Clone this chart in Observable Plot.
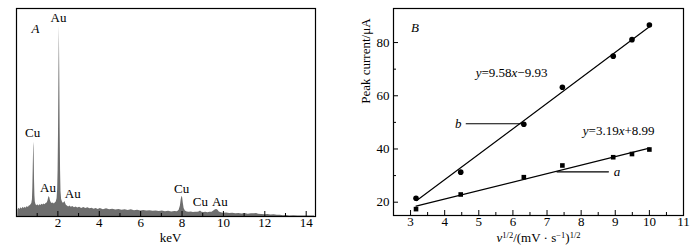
<!DOCTYPE html>
<html><head><meta charset="utf-8">
<script src="https://cdn.jsdelivr.net/npm/d3@7"></script>
<script src="https://cdn.jsdelivr.net/npm/@observablehq/plot@0.6"></script>
<style>
body{margin:0;background:#fff;}
#wrap{position:relative;width:696px;height:248px;overflow:hidden;}
#left{position:absolute;left:0;top:0;}
#right{position:absolute;left:340px;top:0;}
svg text{font-family:"Liberation Serif","Times New Roman",serif;}
</style></head><body><div id="wrap"><div id="left"></div><div id="right"></div></div>
<script>
// ---- Panel A: EDS spectrum (relative intensity, %) ----
const energyKeV = [0.06,0.07,0.12,0.17,0.22,0.27,0.32,0.37,0.42,0.47,0.52,0.57,0.62,0.66,0.70,0.74,0.77,0.79,0.81,0.83,0.84,0.85,0.86,0.87,0.89,0.91,0.94,0.98,1.03,1.08,1.13,1.18,1.23,1.28,1.33,1.38,1.43,1.48,1.52,1.55,1.58,1.61,1.64,1.68,1.73,1.78,1.83,1.88,1.92,1.96,1.99,2.01,2.03,2.05,2.07,2.09,2.11,2.13,2.15,2.18,2.22,2.26,2.30,2.34,2.37,2.41,2.46,2.52,2.58,2.65,2.72,2.80,2.88,2.96,3.05,3.15,3.25,3.35,3.45,3.55,3.65,3.75,3.85,3.95,4.05,4.2,4.35,4.5,4.65,4.8,4.95,5.1,5.25,5.4,5.55,5.7,5.85,6.0,6.15,6.3,6.45,6.6,6.75,6.9,7.05,7.2,7.35,7.5,7.65,7.78,7.86,7.92,7.96,7.99,8.01,8.03,8.06,8.10,8.16,8.25,8.35,8.45,8.55,8.65,8.75,8.82,8.87,8.91,8.96,9.05,9.15,9.25,9.35,9.45,9.55,9.62,9.68,9.74,9.80,9.9,10.0,10.15,10.3,10.45,10.6,10.75,10.9,11.05,11.2,11.35,11.5,11.6,11.7,11.85,12.0,12.15,12.3,12.45,12.6,12.75,12.9,13.05,13.2,13.4,13.6,13.8,14.0,14.2,14.4];
const intensity = [0,3.2,4.0,3.4,4.2,3.6,4.4,3.8,4.5,4.0,4.8,4.3,5.0,5.2,5.6,6.2,8.0,14,24,33.5,35.7,33,26,18,10,7,5.8,5.2,5.6,5.0,5.7,5.3,5.9,5.5,6.0,5.7,6.2,6.5,7.4,8.8,9.6,9.0,7.6,6.6,6.2,6.5,6.0,6.6,7.0,8.5,13,22,40,68,91.8,70,42,22,12,8.2,7.0,6.4,6.6,7.2,6.4,5.4,5.0,4.6,5.0,4.4,4.8,4.2,4.6,4.1,4.5,3.9,4.3,3.8,4.2,3.7,4.0,3.5,3.9,3.4,3.8,3.3,3.7,3.2,3.5,3.1,3.4,3.0,3.3,2.9,3.2,2.8,3.0,2.7,2.9,2.6,2.8,2.5,2.7,2.4,2.6,2.3,2.5,2.2,2.4,2.3,3.0,5.0,8.0,9.4,9.6,9.0,6.5,3.8,2.6,2.2,2.0,2.2,1.9,2.1,2.0,2.2,2.5,2.5,2.1,1.9,2.0,1.8,2.0,2.1,2.8,3.3,3.4,3.0,2.2,1.8,1.6,1.7,1.4,1.6,1.3,1.5,1.2,1.4,1.1,1.3,1.3,1.5,1.1,1.0,0.9,1.0,0.7,0.8,0.6,0.6,0.4,0.5,0.3,0.35,0.25,0.3,0.2,0.25,0.2];
const keVTicks = [2,4,6,8,10,12,14];
const keVMinor = [1,3,5,7,9,11,13];
const peakLabels = [
  {x:2.03,y:95.7,t:"Au"},{x:0.78,y:40.4,t:"Cu"},{x:1.52,y:13.9,t:"Au"},{x:2.72,y:11.0,t:"Au"},
  {x:7.98,y:13.5,t:"Cu"},{x:8.89,y:6.9,t:"Cu"},{x:9.83,y:6.9,t:"Au"}
];

// ---- Panel B: peak current vs sqrt(scan rate) ----
const sqrtRate = [3.16,4.47,6.32,7.45,8.94,9.49,10.0];
const currentB = [21.5,31.3,49.3,63.2,74.9,81.1,86.6];
const currentA = [17.4,22.9,29.4,33.8,36.9,38.1,39.8];
const fitBx = [3.18,10.02], fitBy = [20.6,86.1];
const fitAx = [3.16,10.0], fitAy = [18.5,40.3];
const xTicksB = [3,4,5,6,7,8,9,10,11];
const xMinorB = [3.5,4.5,5.5,6.5,7.5,8.5,9.5,10.5];
const yTicksB = [20,40,60,80];
const yMinorB = [30,50,70];
const eqB = "y=9.58x−9.93", eqA = "y=3.19x+8.99";
const xLabelB = "v1/2/(mV · s−1)1/2";

const serif = '"Liberation Serif","Times New Roman",serif';
const FS = 13;
const spectrum = energyKeV.map((e,i)=>({e, c:intensity[i]}));

// Left panel
const LH = 248-8-32;
const left = Plot.plot({
  width:340, height:248, marginLeft:16, marginRight:25, marginTop:8, marginBottom:32,
  style:{fontFamily:serif, fontSize:FS+"px", background:"white", color:"black"},
  x:{domain:[0,14.45]}, y:{domain:[0,100], axis:null},
  marks:[
    Plot.areaY(spectrum,{x:"e",y:"c",fill:"#6e6e6e",curve:"linear"}),
    Plot.tickX(keVTicks,{x:d=>d,stroke:"black",strokeWidth:1,insetTop:LH-5}),
    Plot.tickX(keVMinor,{x:d=>d,stroke:"black",strokeWidth:1,insetTop:LH-3}),
    Plot.axisX({ticks:keVTicks,tickSize:0,tickPadding:1,label:null,fontSize:FS}),
    Plot.frame({stroke:"black",strokeWidth:1.2}),
    Plot.text(peakLabels,{x:"x",y:"y",text:"t",fontSize:FS,fill:"black",lineAnchor:"middle"}),
    Plot.text(["A"],{x:0.92,y:90.4,text:d=>d,fontSize:FS,fontStyle:"italic",fill:"black",lineAnchor:"middle"}),
    Plot.text(["keV"],{x:7.45,frameAnchor:"bottom",dy:21,text:d=>d,fontSize:FS,fill:"black",lineAnchor:"middle"})
  ]
});
document.getElementById("left").appendChild(left);

// Right panel
const RW = 356-53-13, RH = 248-8-33;
const ptsB = sqrtRate.map((x,i)=>({x,y:currentB[i]}));
const ptsA = sqrtRate.map((x,i)=>({x,y:currentA[i]}));
const lineB = fitBx.map((x,i)=>({x,y:fitBy[i]}));
const lineA = fitAx.map((x,i)=>({x,y:fitAy[i]}));
const right = Plot.plot({
  width:356, height:248, marginLeft:53, marginRight:13, marginTop:8, marginBottom:33,
  style:{fontFamily:serif, fontSize:FS+"px", background:"white", color:"black"},
  x:{domain:[2.5,11]}, y:{domain:[15,92.8]},
  marks:[
    Plot.line(lineB,{x:"x",y:"y",stroke:"black",strokeWidth:1.2}),
    Plot.line(lineA,{x:"x",y:"y",stroke:"black",strokeWidth:1.2}),
    Plot.line([{x:4.63,y:49.5},{x:6.31,y:49.5}],{x:"x",y:"y",stroke:"black",strokeWidth:1.1}),
    Plot.line([{x:7.29,y:31.4},{x:8.80,y:31.4}],{x:"x",y:"y",stroke:"black",strokeWidth:1.1}),
    Plot.dot(ptsB,{x:"x",y:"y",r:2.8,fill:"black",symbol:"circle"}),
    Plot.dot(ptsA,{x:"x",y:"y",r:2.6,fill:"black",symbol:"square"}),
    Plot.tickX(xTicksB,{x:d=>d,stroke:"black",strokeWidth:1,insetTop:RH-5}),
    Plot.tickX(xMinorB,{x:d=>d,stroke:"black",strokeWidth:1,insetTop:RH-3}),
    Plot.tickY(yTicksB,{y:d=>d,stroke:"black",strokeWidth:1,insetRight:RW-5}),
    Plot.tickY(yMinorB,{y:d=>d,stroke:"black",strokeWidth:1,insetRight:RW-3}),
    Plot.axisX({ticks:xTicksB,tickSize:0,tickPadding:1,label:null,fontSize:FS}),
    Plot.axisY({ticks:yTicksB,tickSize:0,tickPadding:4,label:null,fontSize:FS}),
    Plot.frame({stroke:"black",strokeWidth:1.2}),
    Plot.text(["B"],{x:3.13,y:85.5,text:d=>d,fontSize:FS,fontStyle:"italic",fill:"black",lineAnchor:"middle"}),
    Plot.text(["b"],{x:4.40,y:49.3,text:d=>d,fontSize:FS,fontStyle:"italic",fill:"black",lineAnchor:"middle"}),
    Plot.text(["a"],{x:9.05,y:31.4,text:d=>d,fontSize:FS,fontStyle:"italic",fill:"black",lineAnchor:"middle"}),
    Plot.text([eqB],{x:5.96,y:68.6,text:d=>d,fontSize:FS,fill:"black",lineAnchor:"middle"}),
    Plot.text([eqA],{x:9.10,y:46.7,text:d=>d,fontSize:FS,fill:"black",lineAnchor:"middle"}),
    Plot.text(["Peak current/μA"],{y:57,frameAnchor:"left",dx:-28,rotate:-90,text:d=>d,fontSize:FS,fill:"black",lineAnchor:"middle"}),
    Plot.text([xLabelB],{x:6.75,frameAnchor:"bottom",dy:22,text:d=>d,fontSize:FS,fill:"black",lineAnchor:"middle"})
  ]
});
document.getElementById("right").appendChild(right);

// Rich text (italics, superscripts)
const rich = {
  [eqB]: '<tspan font-style="italic">y</tspan>=9.58<tspan font-style="italic">x</tspan>−9.93',
  [eqA]: '<tspan font-style="italic">y</tspan>=3.19<tspan font-style="italic">x</tspan>+8.99',
  [xLabelB]: '<tspan font-style="italic">v</tspan><tspan dy="-4" font-size="8.5">1/2</tspan><tspan dy="4">/(mV · s</tspan><tspan dy="-4" font-size="8.5">−1</tspan><tspan dy="4">)</tspan><tspan dy="-4" font-size="8.5">1/2</tspan>'
};
d3.select(right).selectAll("text").each(function(){
  const t = this.textContent;
  if (rich[t] && this.children.length===0) this.innerHTML = rich[t];
});
</script></body></html>
